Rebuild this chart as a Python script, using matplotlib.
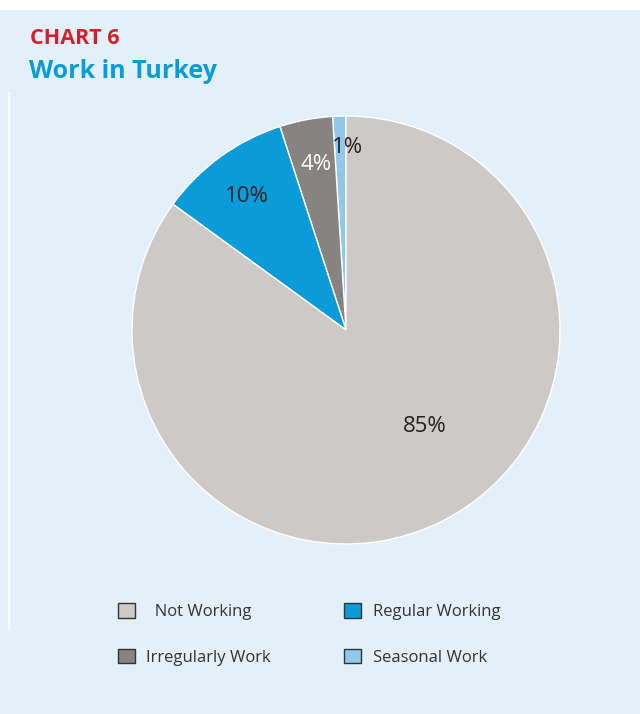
import matplotlib.pyplot as plt
from matplotlib.patches import Rectangle, Patch

categories = ["Not Working", "Regular Working", "Irregularly Work", "Seasonal Work"]
values = [85, 10, 4, 1]
labels = ["85%", "10%", "4%", "1%"]
colors = ["#cdc9c7", "#0b9bd9", "#878380", "#8fc8ea"]
label_colors = ["#222222", "#222222", "white", "#222222"]
# label positions inside the pie (data units, radius = 1)
label_xy = [(0.37, -0.45), (-0.465, 0.625), (-0.14, 0.775), (0.005, 0.855)]

plt.rcParams['font.family'] = ['Open Sans', 'DejaVu Sans']

W, H = 640, 714
fig = plt.figure(figsize=(6.4, 7.14), dpi=100, facecolor="white")

# light blue panel under a thin white top strip
fig.patches.append(Rectangle((0, 0), 1, (H - 10) / H, transform=fig.transFigure,
                             facecolor="#e4f0f9", edgecolor="none", zorder=-2))
fig.patches.append(Rectangle((8 / W, (H - 630) / H), 2 / W, 538 / H,
                             transform=fig.transFigure, facecolor="white",
                             edgecolor="none", zorder=-1))

fig.text(30 / W, 1 - 38 / H, "CHART 6", color="#d4202a", fontsize=15.5,
         fontweight="bold", va="center", ha="left")
fig.text(29 / W, 1 - 72 / H, "Work in Turkey", color="#0b9bd9", fontsize=18,
         fontweight="bold", va="center", ha="left")

cx, cy, r = 346, 330, 214
ax = fig.add_axes([(cx - r) / W, (H - cy - r) / H, 2 * r / W, 2 * r / H])
ax.set_zorder(2)
# slices go counter-clockwise from the top: Seasonal, Irregular, Regular, Not Working
ax.pie(values[::-1], colors=colors[::-1], startangle=90, counterclock=True,
       wedgeprops=dict(edgecolor="white", linewidth=1.0))
ax.set_xlim(-1, 1)
ax.set_ylim(-1, 1)
ax.set_aspect("equal")
ax.axis("off")

for (x, y), lab, c in zip(label_xy, labels, label_colors):
    ax.text(x, y, lab, color=c, fontsize=16, ha="center", va="center")

handles = [Patch(facecolor=colors[i], edgecolor="#333333", linewidth=1.0)
           for i in range(4)]
legend_labels = ["  " + categories[0]] + categories[1:]
order = [0, 2, 1, 3]
leg = fig.legend([handles[i] for i in order], [legend_labels[i] for i in order],
                 ncol=2, loc="upper left", bbox_to_anchor=(103 / W, 1 - 588 / H),
                 frameon=False, fontsize=12, handlelength=1.0, handleheight=1.0,
                 labelspacing=1.7, columnspacing=4.4, handletextpad=0.7,
                 labelcolor="#333333")
leg.set_zorder(3)

fig.savefig("out.png", dpi=100, facecolor=fig.get_facecolor())
